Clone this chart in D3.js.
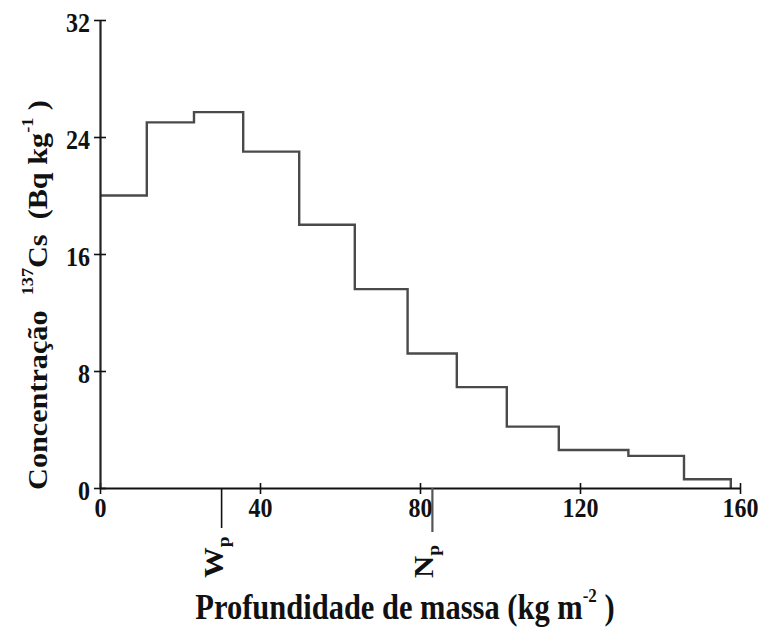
<!DOCTYPE html>
<html>
<head>
<meta charset="utf-8">
<script src="https://cdn.jsdelivr.net/npm/d3@7/dist/d3.min.js"></script>
<style>
  html, body { margin: 0; padding: 0; background: #fff; }
  svg { display: block; }
  text { font-family: "Liberation Serif", "Times New Roman", serif; font-weight: bold; fill: #111; white-space: pre; }
</style>
</head>
<body>
<svg id="chart" width="759" height="628"></svg>
<script>
// Mass depth bin edges (kg m-2) and 137Cs concentration per bin (Bq kg-1)
const depthEdges = [0, 11.7, 23.5, 35.8, 49.8, 63.7, 76.9, 89.2, 101.7, 114.7, 132.1, 146, 157.7];
const concentration = [20, 25, 25.7, 23, 18, 13.6, 9.2, 6.9, 4.2, 2.6, 2.2, 0.6];
const xTicks = [0, 40, 80, 120, 160];
const yTicks = [0, 8, 16, 24, 32];
// Reference depths marked below the axis
const markers = [{ name: "W", sub: "p", depth: 30.4 }, { name: "N", sub: "p", depth: 83.1 }];

const stretch = 1.14; // glyphs are drawn slightly taller than wide
const svg = d3.select("#chart");

const x = d3.scaleLinear().domain([0, 160]).range([100, 740]);
const y = d3.scaleLinear().domain([0, 32]).range([488, 20]);

// step outline of the profile
const pts = depthEdges.slice(0, -1).map((d, i) => [d, concentration[i]]);
pts.push([depthEdges[depthEdges.length - 1], concentration[concentration.length - 1]]);
pts.push([depthEdges[depthEdges.length - 1], 0]);
const line = d3.line().x(d => x(d[0])).y(d => y(d[1])).curve(d3.curveStepAfter);
svg.append("path")
  .attr("d", line(pts))
  .attr("fill", "none")
  .attr("stroke", "#4a4a4a")
  .attr("stroke-width", 2.4);

// x axis
const gx = svg.append("g")
  .attr("transform", `translate(0,${y(0)})`)
  .call(d3.axisBottom(x).tickValues(xTicks).tickSize(6).tickSizeOuter(0));
gx.select(".domain").attr("stroke", "#111").attr("stroke-width", 1.8);
gx.selectAll(".tick line").attr("y1", -5).attr("stroke", "#111").attr("stroke-width", 1.6);
gx.selectAll(".tick text")
  .attr("font-size", 24).attr("font-family", null).attr("fill", "#111")
  .attr("text-anchor", "middle")
  .attr("dy", 0).attr("y", 29 / stretch)
  .attr("transform", `scale(1,${stretch})`);

// y axis
const gy = svg.append("g")
  .attr("transform", `translate(${x(0)},0)`)
  .call(d3.axisLeft(y).tickValues(yTicks).tickSize(6).tickSizeOuter(0));
gy.select(".domain").attr("stroke", "#222").attr("stroke-width", 2.2);
gy.selectAll(".tick line").attr("x1", 6).attr("stroke", "#111").attr("stroke-width", 1.6);
gy.selectAll(".tick text")
  .attr("font-size", 24).attr("font-family", null).attr("fill", "#111")
  .attr("text-anchor", "end")
  .attr("x", -10).attr("dy", 0).attr("y", 11.5 / stretch)
  .attr("transform", `scale(1,${stretch})`);

// depth markers with rotated labels
markers.forEach((m, i) => {
  const mx = x(m.depth);
  svg.append("line")
    .attr("x1", mx).attr("x2", mx)
    .attr("y1", y(0)).attr("y2", i === 0 ? 528 : 532)
    .attr("stroke", i === 0 ? "#111" : "#555")
    .attr("stroke-width", i === 0 ? 1.6 : 2.2);
  const t = svg.append("text")
    .attr("transform", `translate(${mx + 1},578) scale(1,${stretch}) rotate(-90)`)
    .attr("font-size", 27);
  t.append("tspan").text(m.name);
  t.append("tspan").attr("font-size", 17).attr("dy", 6).text(m.sub);
});

// x axis title
const xt = svg.append("text")
  .attr("transform", `translate(405,619) scale(1,${stretch})`)
  .attr("text-anchor", "middle")
  .attr("font-size", 30.5);
xt.append("tspan").text("Profundidade de massa (kg m");
xt.append("tspan").attr("font-size", 17).attr("dy", -15).text("-2");
xt.append("tspan").attr("dy", 15).text(" )");

// y axis title
const yt = svg.append("text")
  .attr("transform", `translate(47,295) scale(1,${stretch}) rotate(-90)`)
  .attr("text-anchor", "middle")
  .attr("font-size", 26.5);
yt.append("tspan").text("Concentração  ");
yt.append("tspan").attr("font-size", 16).attr("dy", -14).text("137");
yt.append("tspan").attr("dy", 14).text("Cs  (Bq kg");
yt.append("tspan").attr("font-size", 16).attr("dy", -14).text("-1");
yt.append("tspan").attr("dy", 14).text(" )");
</script>
</body>
</html>
